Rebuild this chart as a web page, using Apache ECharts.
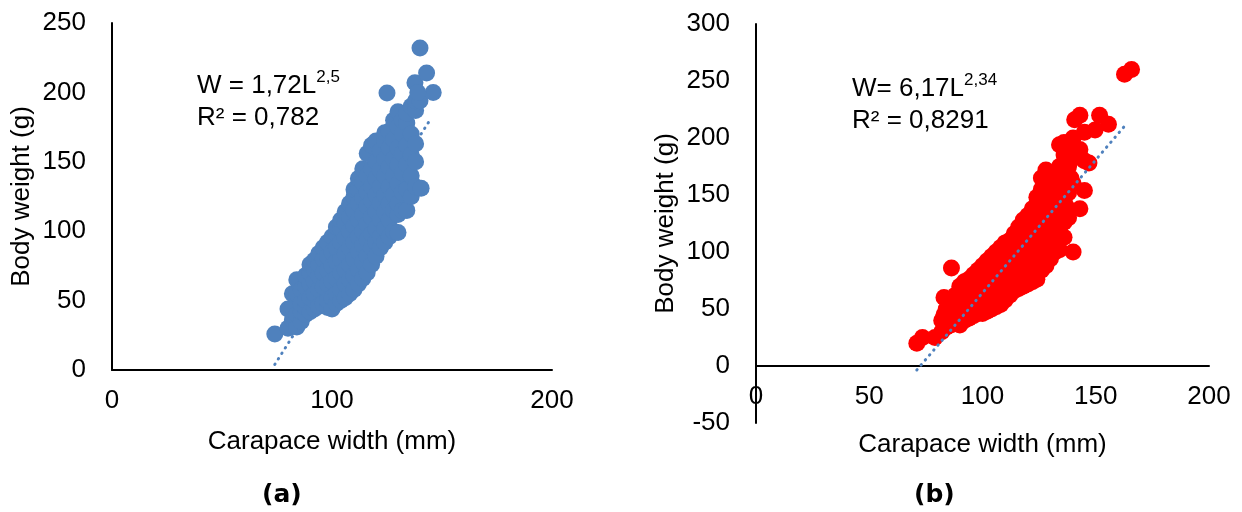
<!DOCTYPE html>
<html>
<head>
<meta charset="utf-8">
<script src="https://cdn.jsdelivr.net/npm/echarts@6/dist/echarts.min.js"></script>
<style>html,body{margin:0;padding:0;background:#fff;}#c{width:1242px;height:512px;}</style>
</head>
<body>
<div id="c"></div>
<script>
// ---- data ----
const xTitle = 'Carapace width (mm)';
const yTitle = 'Body weight (g)';
const panelLabels = ['(a)', '(b)'];
const eqA = ['W = 1,72L', '2,5', 'R² = 0,782'];
const eqB = ['W= 6,17L', '2,34', 'R² = 0,8291'];

// panel (a): [carapace width, body weight]
const pointsA = [
[74,26],[80,30],[80,44],[82,36],[82,45],[82,55],[84,31],[84,40],[84,55],[84,65],[86,35],[86,42],[86,48],[86,58],
[88,40],[88,45],[88,50],[88,60],[88,68],[90,42],[90,52],[90,62],[90,70],[90,76],
[92,44],[92,50],[92,55],[92,64],[92,72],[92,79],
[94,46],[94,58],[94,68],[94,76],[94,84],
[96,48],[96,60],[96,70],[96,80],[96,88],
[98,45],[98,50],[98,62],[98,72],[98,82],[98,92],
[100,44],[100,52],[100,64],[100,75],[100,85],[100,96],
[102,48],[102,55],[102,66],[102,78],[102,88],[102,98],[102,103],
[104,50],[104,58],[104,70],[104,80],[104,92],[104,102],[104,108],
[106,52],[106,62],[106,72],[106,84],[106,95],[106,106],[106,114],
[108,55],[108,65],[108,76],[108,88],[108,100],[108,110],[108,120],
[110,58],[110,68],[110,80],[110,92],[110,104],[110,115],[110,125],[110,130],
[112,62],[112,72],[112,85],[112,96],[112,108],[112,120],[112,130],[112,138],
[114,66],[114,78],[114,90],[114,100],[114,112],[114,124],[114,135],[114,145],
[116,70],[116,82],[116,94],[116,105],[116,118],[116,128],[116,140],[116,156],
[118,76],[118,88],[118,98],[118,110],[118,122],[118,132],[118,145],[118,162],
[120,82],[120,92],[120,102],[120,114],[120,126],[120,138],[120,150],[120,165],
[122,88],[122,96],[122,108],[122,120],[122,132],[122,144],[122,158],
[124,92],[124,102],[124,114],[124,126],[124,140],[124,152],[124,165],[124,171],
[125,199.5],
[126,96],[126,108],[126,120],[126,132],[126,146],[126,160],[126,172],
[128,100],[128,115],[128,126],[128,140],[128,152],[128,166],[128,180],
[130,99],[130,112],[130,120],[130,134],[130,148],[130,160],[130,175],[130,186],
[132,115],[132,128],[132,142],[132,156],[132,170],[132,180],
[134,115],[134,130],[134,148],[134,162],[134,178],[134,185],
[136,125],[136,140],[136,155],[136,170],[136,190],
[138,132],[138,150],[138,163],[138,187],[138,194],
[140.5,131],[137.7,207],[140,194],[140,232],[143,214],[146,200],[139,200]
];

// panel (b): [carapace width, body weight]
const pointsB = [
[71,20],[73.5,25],[79,25],[82,30],[82,40],[83,45],[83,60],[84,34],[84,50],[86.3,86],[86,36],[86,44],[86,55],
[88,38],[88,48],[88,58],[88,62],[89,42],[89,53],[90,36],[90,44],[90,52],[90,62],[90,70],[91,57],[91,66],
[92,40],[92,48],[92,58],[92,66],[92,74],[93,45],[93,55],[93,70],[94,42],[94,52],[94,62],[94,70],[94,76],[95,48],[95,58],[95,67],
[96,44],[96,54],[96,64],[96,74],[96,80],[97,50],[97,60],[97,70],[98,46],[98,56],[98,66],[98,76],[98,84],[99,52],[99,62],[99,72],
[100,46],[100,58],[100,70],[100,80],[100,88],[101,53],[101,65],[101,76],[102,48],[102,60],[102,72],[102,84],[102,92],[103,56],[103,68],[103,80],
[104,50],[104,62],[104,75],[104,88],[104,96],[105,58],[105,70],[105,83],[106,52],[106,65],[106,78],[106,90],[106,100],[107,60],[107,73],[107,86],
[108,54],[108,68],[108,82],[108,94],[108,104],[109,63],[109,77],[109,90],[110,58],[110,72],[110,86],[110,98],[110,108],[111,66],[111,80],[111,94],
[112,62],[112,76],[112,90],[112,102],[112,110],[113,70],[113,84],[113,98],[114,66],[114,80],[114,94],[114,106],[114,116],[115,74],[115,88],[115,102],
[116,68],[116,84],[116,98],[116,110],[116,122],[117,78],[117,92],[117,106],[118,70],[118,86],[118,102],[118,116],[118,128],[119,80],[119,96],[119,110],
[120,72],[120,88],[120,106],[120,120],[120,132],[121,82],[121,98],[121,114],[122,74],[122,92],[122,110],[122,124],[122,138],[123,86],[123,104],[123,120],
[124,76],[124,96],[124,114],[124,130],[124,148],[125,90],[125,108],[125,126],[126,84],[126,100],[126,118],[126,136],[126,155],[126,165],[127,96],[127,112],[127,130],
[128,88],[128,104],[128,122],[128,140],[128,160],[128,172],[129,100],[129,116],[129,134],[129,150],[130,94],[130,108],[130,126],[130,145],[130,165],
[131,104],[131,120],[131,138],[132,100],[132,112],[132,132],[132,150],[132,170],[133,124],[133,142],[133,160],[134,102],[134,118],[134,136],[134,155],[134,175],[134,194],
[135,130],[135,148],[135,168],[136,113],[136,126],[136,145],[136,165],[136,185],[136,196],[137,140],[137,160],[137,180],[138,130],[138,152],[138,175],[138,190],
[139,165],[140,100],[140,160],[140,182],[140,200],[140.7,216],[143,138],[143,190],[143,220],[145,154],[145,180],[145,205],
[147,178],[149.7,207],[151.7,220],[155.6,212],[162.7,256],[165.8,260]
];

// trendlines (start / end)
const trendA = [[74,4],[144.5,180]];
const trendB = [[71,-3.5],[163.4,212]];

// axis ranges
const axisA = {xMin:0, xMax:200, xInt:100, yMin:0, yMax:250, yInt:50};
const axisB = {xMin:0, xMax:200, xInt:50, yMin:-50, yMax:300, yInt:50};

// ---- chart ----
const FONT = '"Liberation Sans", Arial, sans-serif';
const FS = 26;
const BLUE = '#4F81BD';
const RED = '#FF0000';
const gridA = {left:112, top:23, width:440, height:347};
const gridB = {left:756, top:24, width:453, height:399};

// x axis drawn at the y = 0 line: offset from the grid bottom derived from the y scale
function zeroOffset(a, g){
  return -((0 - a.yMin) / (a.yMax - a.yMin)) * g.height;
}

function xAx(idx, a, g, gap){
  return {gridIndex: idx, type:'value', min:a.xMin, max:a.xMax, interval:a.xInt,
    offset: zeroOffset(a, g),
    axisLine:{show:true, onZero:false, lineStyle:{color:'#000', width:2}},
    axisTick:{show:false}, splitLine:{show:false},
    axisLabel:{color:'#000', fontSize:FS, fontFamily:FONT, margin:18},
    name:xTitle, nameLocation:'middle', nameGap:gap, nameMoveOverlap:false,
    nameTextStyle:{color:'#000', fontSize:FS, fontFamily:FONT}};
}
function yAx(idx, a){
  return {gridIndex: idx, type:'value', min:a.yMin, max:a.yMax, interval:a.yInt,
    axisLine:{show:true, onZero:false, lineStyle:{color:'#000', width:2}},
    axisTick:{show:false}, splitLine:{show:false},
    axisLabel:{color:'#000', fontSize:FS, fontFamily:FONT, margin:26},
    name:yTitle, nameLocation:'middle', nameGap:77, nameMoveOverlap:false,
    nameTextStyle:{color:'#000', fontSize:FS, fontFamily:FONT}};
}
function trend(idx, d, z){
  return {type:'line', xAxisIndex:idx, yAxisIndex:idx, data:d, symbol:'none', silent:true, z:z,
    lineStyle:{color:BLUE, width:3, type:[0.5,6], cap:'round'}};
}
function eqText(left, top, eq){
  return {type:'text', left:left, top:top, z:100,
    style:{text:'{m|'+eq[0]+'}{s|'+eq[1]+'}\n{m|'+eq[2]+'}', fill:'#000', align:'center',
      rich:{m:{fontSize:FS, fontFamily:FONT, lineHeight:32, verticalAlign:'bottom'},
            s:{fontSize:17, fontFamily:FONT, lineHeight:32, verticalAlign:'top', padding:[2,0,0,0]}}}};
}

const chart = echarts.init(document.getElementById('c'), null, {renderer:'canvas'});
chart.setOption({
  animation:false,
  backgroundColor:'#fff',
  grid:[
    Object.assign({containLabel:false, outerBoundsMode:'none'}, gridA),
    Object.assign({containLabel:false, outerBoundsMode:'none'}, gridB)
  ],
  xAxis:[xAx(0, axisA, gridA, 59), xAx(1, axisB, gridB, 66)],
  yAxis:[yAx(0, axisA), yAx(1, axisB)],
  series:[
    trend(0, trendA, 1),
    {type:'scatter', xAxisIndex:0, yAxisIndex:0, data:pointsA, symbolSize:17, z:2,
      itemStyle:{color:BLUE, opacity:1}},
    {type:'scatter', xAxisIndex:1, yAxisIndex:1, data:pointsB, symbolSize:17, z:2,
      itemStyle:{color:RED, opacity:1}},
    trend(1, trendB, 3)
  ],
  graphic:[
    eqText(197, 67, eqA),
    eqText(852, 70, eqB),
    {type:'text', left:262, top:483, style:{text:panelLabels[0], fontSize:25, fontWeight:'bold', fontFamily:'"DejaVu Sans", sans-serif', fill:'#000'}},
    {type:'text', left:914, top:483, style:{text:panelLabels[1], fontSize:25, fontWeight:'bold', fontFamily:'"DejaVu Sans", sans-serif', fill:'#000'}}
  ]
});
</script>
</body>
</html>
